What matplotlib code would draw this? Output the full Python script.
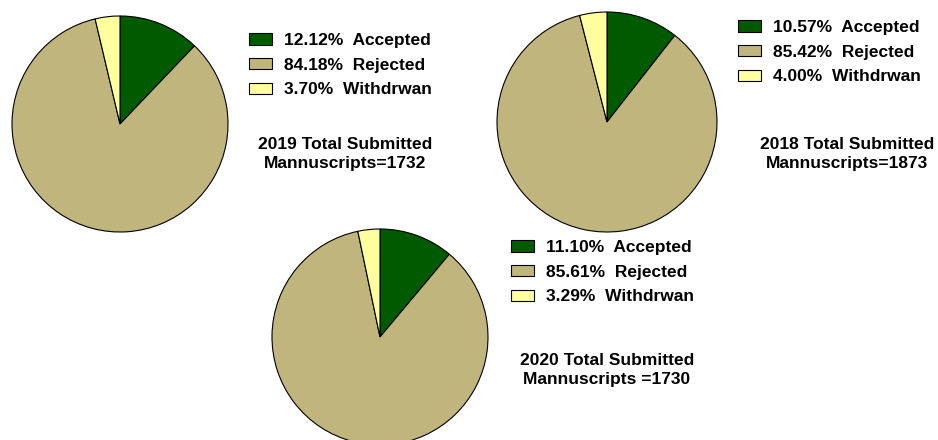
import matplotlib.pyplot as plt

plt.rcParams['font.family'] = ['Liberation Sans', 'DejaVu Sans']
plt.rcParams['font.weight'] = 'bold'

categories = ['Accepted', 'Rejected', 'Withdrwan']
colors = ['#005a00', '#c0b57d', '#ffffa0']

years = ['2019', '2018', '2020']
share_2019 = [12.12, 84.18, 3.70]
share_2018 = [10.57, 85.42, 4.00]
share_2020 = [11.10, 85.61, 3.29]
titles = ['2019 Total Submitted\nMannuscripts=1732',
          '2018 Total Submitted\nMannuscripts=1873',
          '2020 Total Submitted\nMannuscripts =1730']

W, H = 938, 440
fig = plt.figure(figsize=(W / 100, H / 100), dpi=100)

# pixel layout: pie centre, radius, legend corner, title centre
layout = [
    dict(c=(120, 124), r=108, leg=(249, 33), tit=(345, 154)),
    dict(c=(607, 122), r=110, leg=(738, 20), tit=(847, 154)),
    dict(c=(380, 337), r=108, leg=(511, 240), tit=(607, 370)),
]

for vals, title, lay in zip([share_2019, share_2018, share_2020], titles, layout):
    cx, cy = lay['c']
    r = lay['r']
    ax = fig.add_axes([(cx - r) / W, (H - cy - r) / H, 2 * r / W, 2 * r / H])
    wedges, _ = ax.pie(vals, colors=colors, startangle=90, counterclock=False,
                       wedgeprops=dict(edgecolor='black', linewidth=0.8))
    ax.set_xlim(-1, 1)
    ax.set_ylim(-1, 1)
    ax.set_aspect('equal')
    ax.axis('off')

    labels = [f'{v:.2f}%  {c}' for v, c in zip(vals, categories)]
    lx, ly = lay['leg']
    fig.legend(wedges, labels, loc='upper left',
               bbox_to_anchor=(lx / W, 1 - ly / H), frameon=False,
               fontsize=12.5, handlelength=1.3, handleheight=0.65,
               handletextpad=0.7, labelspacing=0.56, borderpad=0,
               borderaxespad=0)

    tx, ty = lay['tit']
    fig.text(tx / W, 1 - ty / H, title, ha='center', va='center',
             fontsize=12.5, fontweight='bold', linespacing=1.4)

fig.savefig('out.png', dpi=100)
